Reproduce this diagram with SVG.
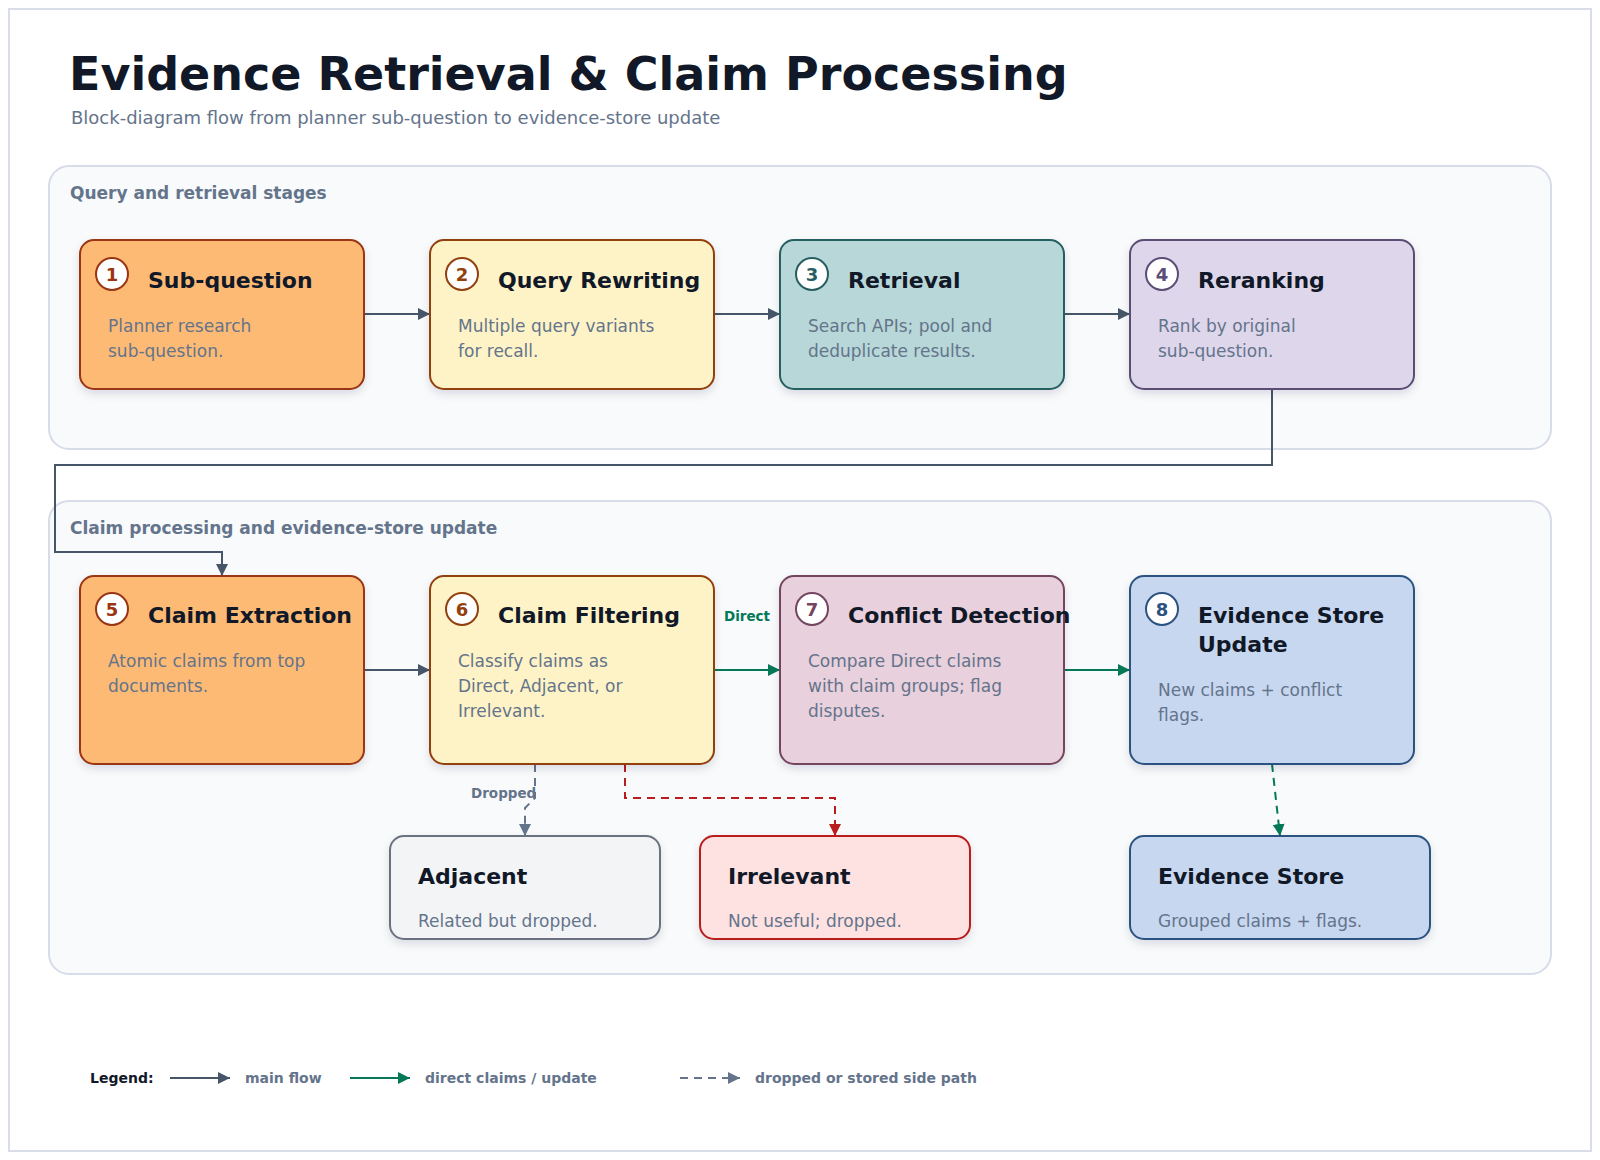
<svg xmlns="http://www.w3.org/2000/svg" width="1600" height="1160" viewBox="0 0 1600 1160">
<defs>
<filter id="sh" x="-10%" y="-10%" width="120%" height="130%">
<feDropShadow dx="0" dy="4" stdDeviation="4" flood-color="#0f172a" flood-opacity="0.12"/>
</filter>
<marker id="aMain" markerUnits="userSpaceOnUse" markerWidth="12" markerHeight="12" refX="12" refY="6" orient="auto"><path d="M0,0 L12,6 L0,12 z" fill="#475569"/></marker>
<marker id="aGreen" markerUnits="userSpaceOnUse" markerWidth="12" markerHeight="12" refX="12" refY="6" orient="auto"><path d="M0,0 L12,6 L0,12 z" fill="#047857"/></marker>
<marker id="aGray" markerUnits="userSpaceOnUse" markerWidth="12" markerHeight="12" refX="12" refY="6" orient="auto"><path d="M0,0 L12,6 L0,12 z" fill="#64748b"/></marker>
<marker id="aRed" markerUnits="userSpaceOnUse" markerWidth="12" markerHeight="12" refX="12" refY="6" orient="auto"><path d="M0,0 L12,6 L0,12 z" fill="#b91c1c"/></marker>
</defs>
<style>
text{font-family:"DejaVu Sans","Liberation Sans",sans-serif}
.title{font-size:46px;font-weight:bold;fill:#111827}
.sub{font-size:18px;fill:#64748b}
.sec{fill:#f8fafc;stroke:#d6dce8;stroke-width:2}
.seclbl{font-size:17px;font-weight:bold;fill:#64748b}
.box{stroke-width:2;filter:url(#sh)}
.nt{font-size:22px;font-weight:bold;fill:#111827}
.nd{font-size:17px;fill:#64748b}
.num{font-size:18px;font-weight:bold;text-anchor:middle}
.circ{fill:#ffffff;stroke-width:2}
.main{fill:none;stroke:#475569;stroke-width:2}
.green{fill:none;stroke:#047857;stroke-width:2}
.gdash{fill:none;stroke:#047857;stroke-width:2;stroke-dasharray:8 6}
.gray{fill:none;stroke:#64748b;stroke-width:2;stroke-dasharray:8 6}
.red{fill:none;stroke:#b91c1c;stroke-width:2;stroke-dasharray:8 6}
.lbl{font-size:13.5px;font-weight:bold}
.leg{font-size:14px;font-weight:bold;fill:#64748b}
</style>
<rect x="9" y="9" width="1582" height="1142" fill="#ffffff" stroke="#d9dde9" stroke-width="2"/>
<text class="title" x="69" y="90">Evidence Retrieval &amp; Claim Processing</text>
<text class="sub" x="71" y="124">Block-diagram flow from planner sub-question to evidence-store update</text>

<g id="section-query">
<rect class="sec" x="49" y="166" width="1502" height="283" rx="20"/>
<text class="seclbl" x="70" y="199">Query and retrieval stages</text>
</g>
<g id="section-claims">
<rect class="sec" x="49" y="501" width="1502" height="473" rx="20"/>
<text class="seclbl" x="70" y="534">Claim processing and evidence-store update</text>
</g>

<g id="connectors">
<path class="main" d="M364,314 H430" marker-end="url(#aMain)"/>
<path class="main" d="M714,314 H780" marker-end="url(#aMain)"/>
<path class="main" d="M1064,314 H1130" marker-end="url(#aMain)"/>
<path class="main" d="M1272,389 V465 H55 V552 H222 V576" marker-end="url(#aMain)"/>
<path class="main" d="M364,670 H430" marker-end="url(#aMain)"/>
<path class="green" d="M714,670 H780" marker-end="url(#aGreen)"/>
<text class="lbl" x="747" y="621" text-anchor="middle" fill="#047857">Direct</text>
<path class="green" d="M1064,670 H1130" marker-end="url(#aGreen)"/>
<path class="gdash" d="M1272,764 L1280,836" marker-end="url(#aGreen)"/>
<path class="gray" d="M535,764 V798 L525,808 V836" marker-end="url(#aGray)"/>
<text class="lbl" x="471" y="798" fill="#64748b">Dropped</text>
<path class="red" d="M625,764 V798 H835 V836" marker-end="url(#aRed)"/>
</g>

<g id="node1">
<rect class="box" x="80" y="240" width="284" height="149" rx="14" fill="#fdba74" stroke="#9a3412"/>
<circle class="circ" cx="112" cy="274" r="16" stroke="#9a3412"/>
<text class="num" x="112" y="280.5" fill="#9a3412">1</text>
<text class="nt" x="148" y="288">Sub-question</text>
<text class="nd" x="108" y="332">Planner research</text>
<text class="nd" x="108" y="357">sub-question.</text>
</g>
<g id="node2">
<rect class="box" x="430" y="240" width="284" height="149" rx="14" fill="#fef3c7" stroke="#92400e"/>
<circle class="circ" cx="462" cy="274" r="16" stroke="#92400e"/>
<text class="num" x="462" y="280.5" fill="#92400e">2</text>
<text class="nt" x="498" y="288">Query Rewriting</text>
<text class="nd" x="458" y="332">Multiple query variants</text>
<text class="nd" x="458" y="357">for recall.</text>
</g>
<g id="node3">
<rect class="box" x="780" y="240" width="284" height="149" rx="14" fill="#b8d7d8" stroke="#285e61"/>
<circle class="circ" cx="812" cy="274" r="16" stroke="#285e61"/>
<text class="num" x="812" y="280.5" fill="#285e61">3</text>
<text class="nt" x="848" y="288">Retrieval</text>
<text class="nd" x="808" y="332">Search APIs; pool and</text>
<text class="nd" x="808" y="357">deduplicate results.</text>
</g>
<g id="node4">
<rect class="box" x="1130" y="240" width="284" height="149" rx="14" fill="#ded6eb" stroke="#5b4d75"/>
<circle class="circ" cx="1162" cy="274" r="16" stroke="#5b4d75"/>
<text class="num" x="1162" y="280.5" fill="#5b4d75">4</text>
<text class="nt" x="1198" y="288">Reranking</text>
<text class="nd" x="1158" y="332">Rank by original</text>
<text class="nd" x="1158" y="357">sub-question.</text>
</g>

<g id="node5">
<rect class="box" x="80" y="576" width="284" height="188" rx="14" fill="#fdba74" stroke="#9a3412"/>
<circle class="circ" cx="112" cy="609" r="16" stroke="#9a3412"/>
<text class="num" x="112" y="615.5" fill="#9a3412">5</text>
<text class="nt" x="148" y="623">Claim Extraction</text>
<text class="nd" x="108" y="667">Atomic claims from top</text>
<text class="nd" x="108" y="692">documents.</text>
</g>
<g id="node6">
<rect class="box" x="430" y="576" width="284" height="188" rx="14" fill="#fef3c7" stroke="#92400e"/>
<circle class="circ" cx="462" cy="609" r="16" stroke="#92400e"/>
<text class="num" x="462" y="615.5" fill="#92400e">6</text>
<text class="nt" x="498" y="623">Claim Filtering</text>
<text class="nd" x="458" y="667">Classify claims as</text>
<text class="nd" x="458" y="692">Direct, Adjacent, or</text>
<text class="nd" x="458" y="717">Irrelevant.</text>
</g>
<g id="node7">
<rect class="box" x="780" y="576" width="284" height="188" rx="14" fill="#e9d0dd" stroke="#744560"/>
<circle class="circ" cx="812" cy="609" r="16" stroke="#744560"/>
<text class="num" x="812" y="615.5" fill="#744560">7</text>
<text class="nt" x="848" y="623">Conflict Detection</text>
<text class="nd" x="808" y="667">Compare Direct claims</text>
<text class="nd" x="808" y="692">with claim groups; flag</text>
<text class="nd" x="808" y="717">disputes.</text>
</g>
<g id="node8">
<rect class="box" x="1130" y="576" width="284" height="188" rx="14" fill="#c7d7f0" stroke="#2c5282"/>
<circle class="circ" cx="1162" cy="609" r="16" stroke="#2c5282"/>
<text class="num" x="1162" y="615.5" fill="#2c5282">8</text>
<text class="nt" x="1198" y="623">Evidence Store</text>
<text class="nt" x="1198" y="652">Update</text>
<text class="nd" x="1158" y="696">New claims + conflict</text>
<text class="nd" x="1158" y="721">flags.</text>
</g>

<g id="adjacent">
<rect class="box" x="390" y="836" width="270" height="103" rx="14" fill="#f3f4f6" stroke="#6b7280"/>
<text class="nt" x="418" y="884">Adjacent</text>
<text class="nd" x="418" y="927">Related but dropped.</text>
</g>
<g id="irrelevant">
<rect class="box" x="700" y="836" width="270" height="103" rx="14" fill="#fee2e2" stroke="#b91c1c"/>
<text class="nt" x="728" y="884">Irrelevant</text>
<text class="nd" x="728" y="927">Not useful; dropped.</text>
</g>
<g id="evidence-store">
<rect class="box" x="1130" y="836" width="300" height="103" rx="14" fill="#c7d7f0" stroke="#2c5282"/>
<text class="nt" x="1158" y="884">Evidence Store</text>
<text class="nd" x="1158" y="927">Grouped claims + flags.</text>
</g>

<g id="legend">
<text x="90" y="1083" font-size="14" font-weight="bold" fill="#111827">Legend:</text>
<path class="main" d="M170,1078 H230" marker-end="url(#aMain)"/>
<text class="leg" x="245" y="1083">main flow</text>
<path class="green" d="M350,1078 H410" marker-end="url(#aGreen)"/>
<text class="leg" x="425" y="1083">direct claims / update</text>
<path class="gray" d="M680,1078 H740" marker-end="url(#aGray)"/>
<text class="leg" x="755" y="1083">dropped or stored side path</text>
</g>
</svg>
